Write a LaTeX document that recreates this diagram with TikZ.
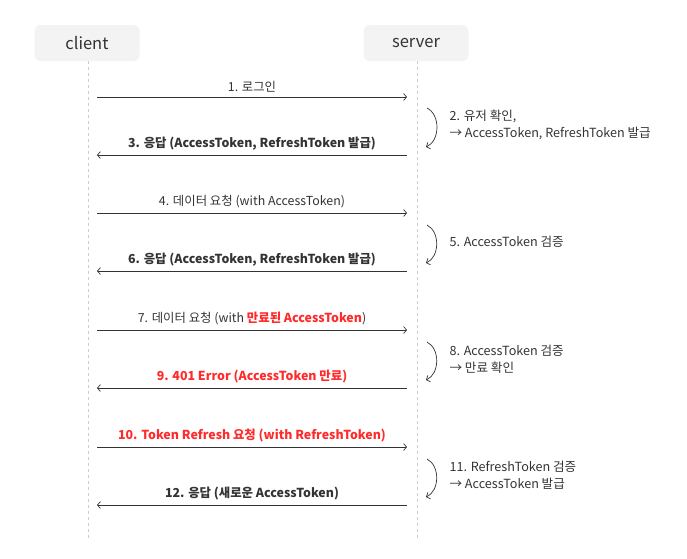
\documentclass[tikz,border=0pt]{standalone}
\usepackage{fontspec}
\setmainfont{Noto Sans CJK KR}
\usepackage{tikz}
\usetikzlibrary{arrows.meta,positioning}

\definecolor{boxgray}{HTML}{F3F3F3}
\definecolor{linegray}{HTML}{CCCCCC}
\definecolor{msgred}{HTML}{FF2A2A}
\definecolor{ink}{HTML}{333333}

\tikzset{
  actor/.style={fill=boxgray, rounded corners=6pt, minimum width=105pt, minimum height=36pt, font=\fontsize{16.5}{18}\selectfont, text=ink},
  lifeline/.style={linegray, dashed, line width=0.6pt},
  msg/.style={ink, line width=0.7pt, -{Straight Barb[length=3pt,width=7pt]}},
  msglabel/.style={font=\fontsize{12.4}{14}\selectfont, text=ink},
  boldlabel/.style={font=\bfseries\fontsize{12.4}{14}\selectfont},
  selfarc/.style={ink, line width=0.7pt, -{Straight Barb[length=3pt,width=7pt]}, bend left=65},
  notelabel/.style={font=\fontsize{12.6}{17}\selectfont, text=ink, align=left, anchor=west}
}

\begin{document}
\begin{tikzpicture}[x=1pt,y=-1pt]
  \useasboundingbox (0,0) rectangle (687,558);

  % Teilnehmer
  \node[actor] (client) at (87,43) {client};
  \node[actor] (server) at (416,43) {server};

  % Lebenslinien
  \coordinate (clientEnd) at (88,540);
  \coordinate (serverEnd) at (417,540);
  \draw[lifeline] (client.south -| clientEnd) -- (clientEnd);
  \draw[lifeline] (server.south -| serverEnd) -- (serverEnd);

  % Endpunkte der Nachrichten
  \coordinate (c1) at (97,97);   \coordinate (s1) at (407,97);
  \coordinate (c3) at (97,155);  \coordinate (s3) at (407,155);
  \coordinate (c4) at (97,213);  \coordinate (s4) at (407,213);
  \coordinate (c6) at (97,271);  \coordinate (s6) at (407,271);
  \coordinate (c7) at (97,330);  \coordinate (s7) at (407,330);
  \coordinate (c9) at (97,388);  \coordinate (s9) at (407,388);
  \coordinate (c10) at (97,447); \coordinate (s10) at (407,447);
  \coordinate (c12) at (97,505); \coordinate (s12) at (407,505);

  % Nachrichten
  \draw[msg] (c1) -- node[msglabel, above=1.5pt] (m1) {1. 로그인} (s1);
  \draw[msg] (s3) -- node[msglabel, boldlabel, above=1.5pt] (m3) {3. 응답 (AccessToken, RefreshToken 발급)} (c3);
  \draw[msg] (c4) -- node[msglabel, above=1.5pt] (m4) {4. 데이터 요청 (with AccessToken)} (s4);
  \draw[msg] (s6) -- node[msglabel, boldlabel, above=1.5pt] (m6) {6. 응답 (AccessToken, RefreshToken 발급)} (c6);
  \draw[msg] (c7) -- node[msglabel, above=1.5pt] (m7) {7. 데이터 요청 (with \textcolor{msgred}{\bfseries 만료된 AccessToken})} (s7);
  \draw[msg] (s9) -- node[msglabel, boldlabel, text=msgred, above=1.5pt] (m9) {9. 401 Error (AccessToken 만료)} (c9);
  \draw[msg] (c10) -- node[msglabel, boldlabel, text=msgred, above=1.5pt] (m10) {10. Token Refresh 요청 (with RefreshToken)} (s10);
  \draw[msg] (s12) -- node[msglabel, boldlabel, above=1.5pt] (m12) {12. 응답 (새로운 AccessToken)} (c12);

  % Selbstaufrufe am Server
  \coordinate (a2) at (427,108);  \coordinate (b2) at (426,147);
  \coordinate (a5) at (427,225);  \coordinate (b5) at (426,263);
  \coordinate (a8) at (427,342);  \coordinate (b8) at (426,380);
  \coordinate (a11) at (427,459); \coordinate (b11) at (426,497);
  \draw[selfarc] (a2) to (b2);
  \draw[selfarc] (a5) to (b5);
  \draw[selfarc] (a8) to (b8);
  \draw[selfarc] (a11) to (b11);

  % Notizen
  \node[notelabel] (n2) at (446,125) {2. 유저 확인,\\→ AccessToken, RefreshToken 발급};
  \node[notelabel] (n5) at (446,242) {5. AccessToken 검증};
  \node[notelabel] (n8) at (446,359) {8. AccessToken 검증\\→ 만료 확인};
  \node[notelabel] (n11) at (446,475) {11. RefreshToken 검증\\→ AccessToken 발급};
\end{tikzpicture}
\end{document}
